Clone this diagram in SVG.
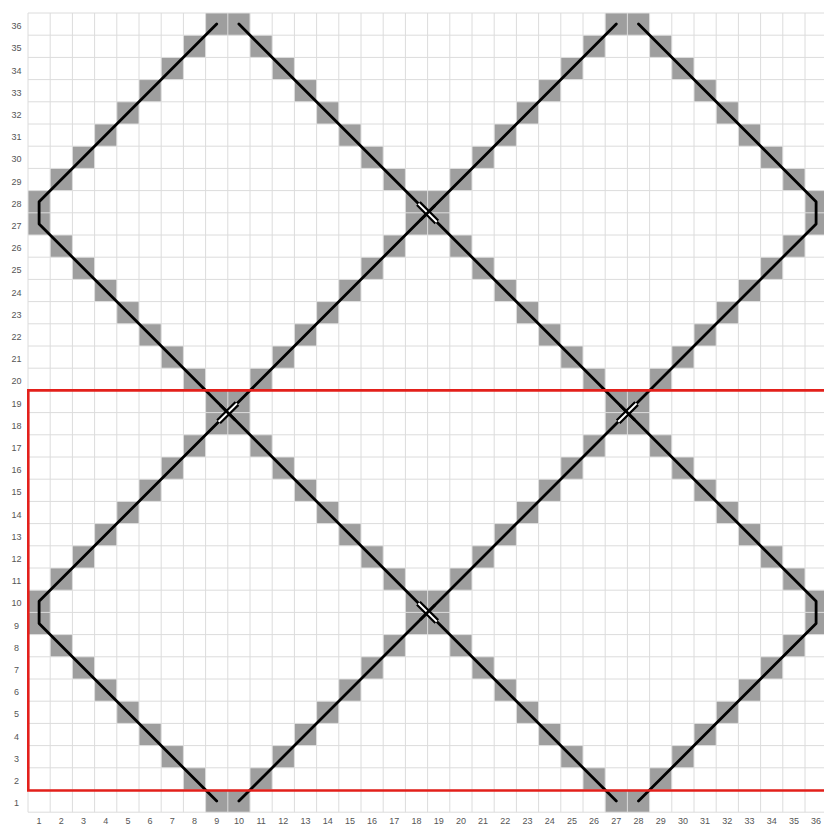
<svg xmlns="http://www.w3.org/2000/svg" width="824" height="826" viewBox="0 0 824 826">
<style>
.cell{fill:#9e9e9e;stroke:none}
.grid{fill:none;stroke:#dcdcdc;stroke-width:1}
.lbl{font-family:"Liberation Sans",Arial,sans-serif;font-size:9px;fill:#555;text-anchor:middle}
.ln{fill:none;stroke:#000;stroke-width:2.8;stroke-linecap:round;stroke-linejoin:round}
.cas{fill:none;stroke:#000;stroke-width:6.4;stroke-linecap:butt}
.gap{fill:none;stroke:#fff;stroke-width:2;stroke-linecap:butt}
.frame{fill:none;stroke:#e3201b;stroke-width:2.6}
</style>
<rect x="0" y="0" width="824" height="826" fill="#fff"/>
<g transform="translate(28,13) scale(22.2)">
<path id="cells" class="cell" d="M8 0h1v1h-1zM7 1h1v1h-1zM6 2h1v1h-1zM5 3h1v1h-1zM4 4h1v1h-1zM3 5h1v1h-1zM2 6h1v1h-1zM1 7h1v1h-1zM0 8h1v1h-1z
M0 9h1v1h-1zM1 10h1v1h-1zM2 11h1v1h-1zM3 12h1v1h-1zM4 13h1v1h-1zM5 14h1v1h-1zM6 15h1v1h-1zM7 16h1v1h-1zM8 17h1v1h-1zM9 18h1v1h-1zM10 19h1v1h-1zM11 20h1v1h-1zM12 21h1v1h-1zM13 22h1v1h-1zM14 23h1v1h-1zM15 24h1v1h-1zM16 25h1v1h-1zM17 26h1v1h-1zM18 27h1v1h-1zM19 28h1v1h-1zM20 29h1v1h-1zM21 30h1v1h-1zM22 31h1v1h-1zM23 32h1v1h-1zM24 33h1v1h-1zM25 34h1v1h-1zM26 35h1v1h-1z
M9 0h1v1h-1zM10 1h1v1h-1zM11 2h1v1h-1zM12 3h1v1h-1zM13 4h1v1h-1zM14 5h1v1h-1zM15 6h1v1h-1zM16 7h1v1h-1zM17 8h1v1h-1zM18 9h1v1h-1zM19 10h1v1h-1zM20 11h1v1h-1zM21 12h1v1h-1zM22 13h1v1h-1zM23 14h1v1h-1zM24 15h1v1h-1zM25 16h1v1h-1zM26 17h1v1h-1zM27 18h1v1h-1zM28 19h1v1h-1zM29 20h1v1h-1zM30 21h1v1h-1zM31 22h1v1h-1zM32 23h1v1h-1zM33 24h1v1h-1zM34 25h1v1h-1zM35 26h1v1h-1z
M35 27h1v1h-1zM34 28h1v1h-1zM33 29h1v1h-1zM32 30h1v1h-1zM31 31h1v1h-1zM30 32h1v1h-1zM29 33h1v1h-1zM28 34h1v1h-1zM27 35h1v1h-1z
M26 0h1v1h-1zM25 1h1v1h-1zM24 2h1v1h-1zM23 3h1v1h-1zM22 4h1v1h-1zM21 5h1v1h-1zM20 6h1v1h-1zM19 7h1v1h-1zM18 8h1v1h-1zM17 9h1v1h-1zM16 10h1v1h-1zM15 11h1v1h-1zM14 12h1v1h-1zM13 13h1v1h-1zM12 14h1v1h-1zM11 15h1v1h-1zM10 16h1v1h-1zM9 17h1v1h-1zM8 18h1v1h-1zM7 19h1v1h-1zM6 20h1v1h-1zM5 21h1v1h-1zM4 22h1v1h-1zM3 23h1v1h-1zM2 24h1v1h-1zM1 25h1v1h-1zM0 26h1v1h-1z
M0 27h1v1h-1zM1 28h1v1h-1zM2 29h1v1h-1zM3 30h1v1h-1zM4 31h1v1h-1zM5 32h1v1h-1zM6 33h1v1h-1zM7 34h1v1h-1zM8 35h1v1h-1z
M27 0h1v1h-1zM28 1h1v1h-1zM29 2h1v1h-1zM30 3h1v1h-1zM31 4h1v1h-1zM32 5h1v1h-1zM33 6h1v1h-1zM34 7h1v1h-1zM35 8h1v1h-1z
M35 9h1v1h-1zM34 10h1v1h-1zM33 11h1v1h-1zM32 12h1v1h-1zM31 13h1v1h-1zM30 14h1v1h-1zM29 15h1v1h-1zM28 16h1v1h-1zM27 17h1v1h-1zM26 18h1v1h-1zM25 19h1v1h-1zM24 20h1v1h-1zM23 21h1v1h-1zM22 22h1v1h-1zM21 23h1v1h-1zM20 24h1v1h-1zM19 25h1v1h-1zM18 26h1v1h-1zM17 27h1v1h-1zM16 28h1v1h-1zM15 29h1v1h-1zM14 30h1v1h-1zM13 31h1v1h-1zM12 32h1v1h-1zM11 33h1v1h-1zM10 34h1v1h-1zM9 35h1v1h-1z"/>
<path id="grid" class="grid" vector-effect="non-scaling-stroke" d="M0 0V36M1 0V36M2 0V36M3 0V36M4 0V36M5 0V36M6 0V36M7 0V36M8 0V36M9 0V36M10 0V36M11 0V36M12 0V36M13 0V36M14 0V36M15 0V36M16 0V36M17 0V36M18 0V36M19 0V36M20 0V36M21 0V36M22 0V36M23 0V36M24 0V36M25 0V36M26 0V36M27 0V36M28 0V36M29 0V36M30 0V36M31 0V36M32 0V36M33 0V36M34 0V36M35 0V36M36 0V36
M0 0H36M0 1H36M0 2H36M0 3H36M0 4H36M0 5H36M0 6H36M0 7H36M0 8H36M0 9H36M0 10H36M0 11H36M0 12H36M0 13H36M0 14H36M0 15H36M0 16H36M0 17H36M0 18H36M0 19H36M0 20H36M0 21H36M0 22H36M0 23H36M0 24H36M0 25H36M0 26H36M0 27H36M0 28H36M0 29H36M0 30H36M0 31H36M0 32H36M0 33H36M0 34H36M0 35H36M0 36H36"/>
</g>
<g id="row-labels" class="lbl">
<text x="16.5" y="29.1">36</text><text x="16.5" y="51.3">35</text><text x="16.5" y="73.5">34</text><text x="16.5" y="95.7">33</text><text x="16.5" y="117.9">32</text><text x="16.5" y="140.1">31</text><text x="16.5" y="162.3">30</text><text x="16.5" y="184.5">29</text><text x="16.5" y="206.7">28</text><text x="16.5" y="228.9">27</text><text x="16.5" y="251.1">26</text><text x="16.5" y="273.3">25</text><text x="16.5" y="295.5">24</text><text x="16.5" y="317.7">23</text><text x="16.5" y="339.9">22</text><text x="16.5" y="362.1">21</text><text x="16.5" y="384.3">20</text><text x="16.5" y="406.5">19</text><text x="16.5" y="428.7">18</text><text x="16.5" y="450.9">17</text><text x="16.5" y="473.1">16</text><text x="16.5" y="495.3">15</text><text x="16.5" y="517.5">14</text><text x="16.5" y="539.7">13</text><text x="16.5" y="561.9">12</text><text x="16.5" y="584.1">11</text><text x="16.5" y="606.3">10</text><text x="16.5" y="628.5">9</text><text x="16.5" y="650.7">8</text><text x="16.5" y="672.9">7</text><text x="16.5" y="695.1">6</text><text x="16.5" y="717.3">5</text><text x="16.5" y="739.5">4</text><text x="16.5" y="761.7">3</text><text x="16.5" y="783.9">2</text><text x="16.5" y="806.1">1</text>
</g>
<g id="col-labels" class="lbl">
<text x="39.1" y="824">1</text><text x="61.3" y="824">2</text><text x="83.5" y="824">3</text><text x="105.7" y="824">4</text><text x="127.9" y="824">5</text><text x="150.1" y="824">6</text><text x="172.3" y="824">7</text><text x="194.5" y="824">8</text><text x="216.7" y="824">9</text><text x="238.9" y="824">10</text><text x="261.1" y="824">11</text><text x="283.3" y="824">12</text><text x="305.5" y="824">13</text><text x="327.7" y="824">14</text><text x="349.9" y="824">15</text><text x="372.1" y="824">16</text><text x="394.3" y="824">17</text><text x="416.5" y="824">18</text><text x="438.7" y="824">19</text><text x="460.9" y="824">20</text><text x="483.1" y="824">21</text><text x="505.3" y="824">22</text><text x="527.5" y="824">23</text><text x="549.7" y="824">24</text><text x="571.9" y="824">25</text><text x="594.1" y="824">26</text><text x="616.3" y="824">27</text><text x="638.5" y="824">28</text><text x="660.7" y="824">29</text><text x="682.9" y="824">30</text><text x="705.1" y="824">31</text><text x="727.3" y="824">32</text><text x="749.5" y="824">33</text><text x="771.7" y="824">34</text><text x="793.9" y="824">35</text><text x="816.1" y="824">36</text>
</g>
<g id="strands">
<path id="strand1" class="ln" d="M216.7 24.1L39.1 201.7L39.1 223.9L616.3 801.1"/>
<path id="strand2" class="ln" d="M238.9 24.1L816.1 601.3L816.1 623.5L638.5 801.1"/>
<path id="strand3" class="ln" d="M616.3 24.1L39.1 601.3L39.1 623.5L216.7 801.1"/>
<path id="strand4" class="ln" d="M638.5 24.1L816.1 201.7L816.1 223.9L238.9 801.1"/>
</g>
<g id="crossings">
<path class="cas" d="M418.4 203.6L436.8 222M218.6 421.8L237 403.4M418.4 603.2L436.8 621.6M618.2 421.8L636.6 403.4"/>
<path class="gap" d="M418.4 203.6L436.8 222M218.6 421.8L237 403.4M418.4 603.2L436.8 621.6M618.2 421.8L636.6 403.4"/>
<path class="ln" d="M420.5 219.9L434.7 205.7M220.7 405.5L234.9 419.7M420.5 619.5L434.7 605.3M620.3 405.5L634.5 419.7"/>
</g>
<path id="frame" class="frame" d="M826 390.4H28.3V790.5H826"/>
</svg>
